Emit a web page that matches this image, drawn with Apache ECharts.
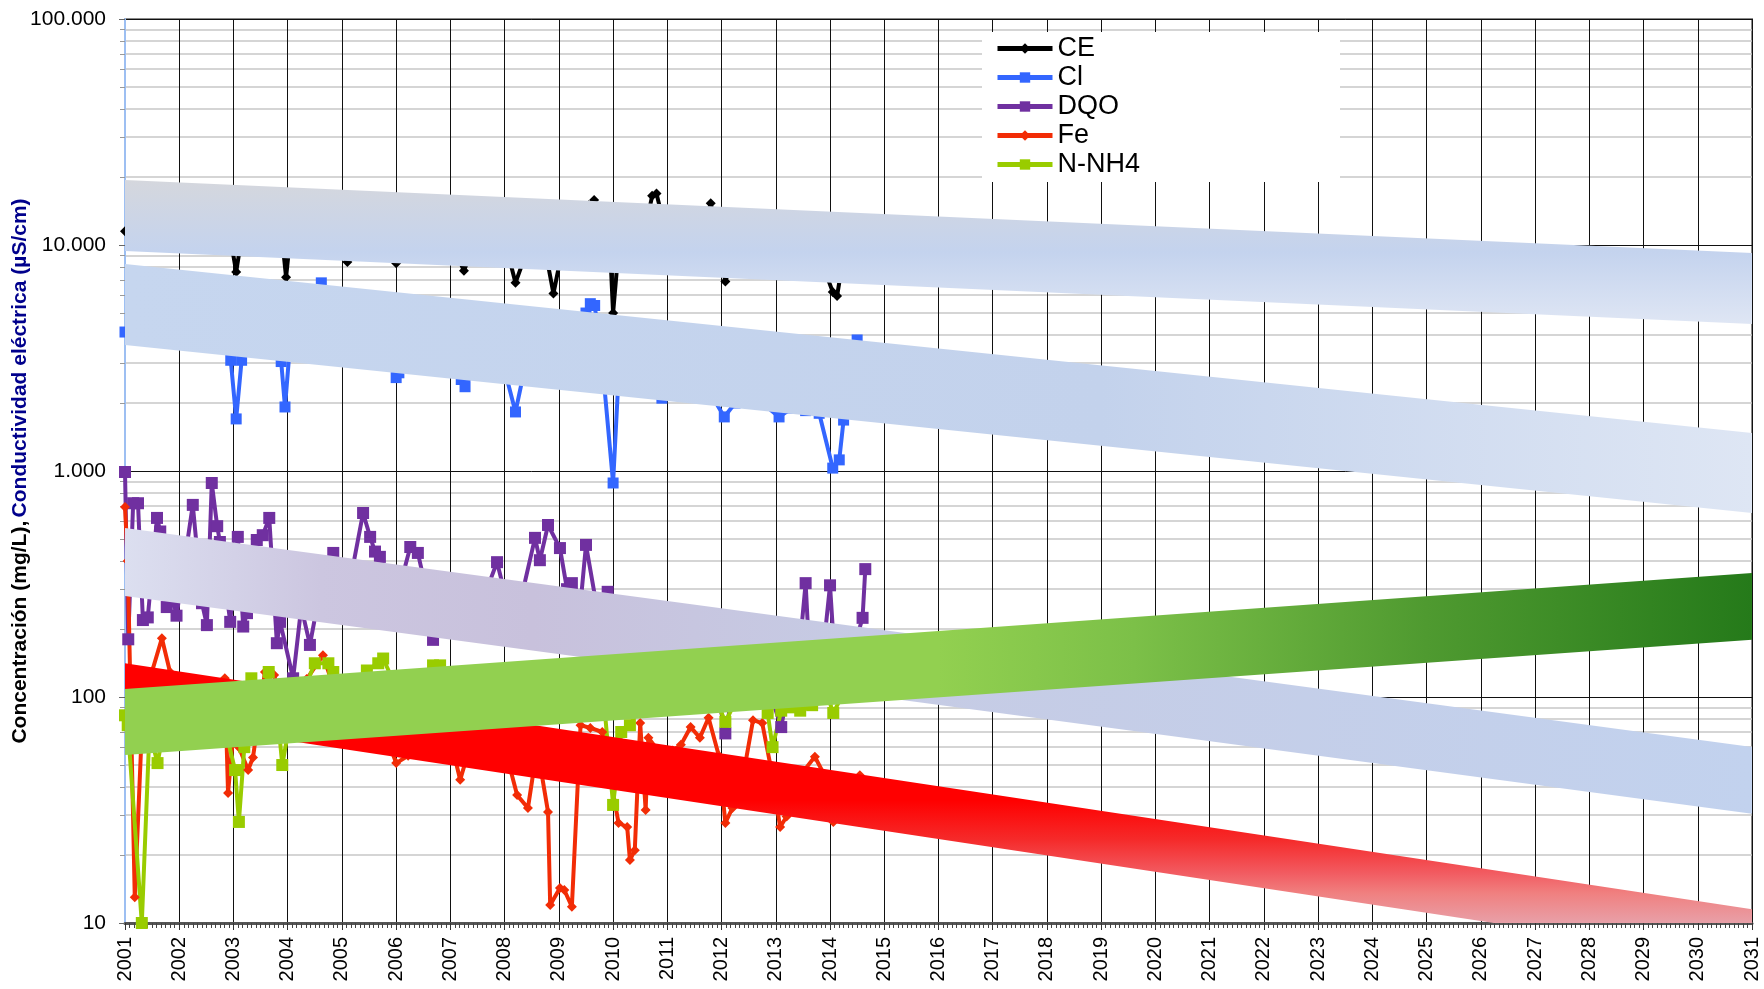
<!DOCTYPE html>
<html>
<head>
<meta charset="utf-8">
<title>Concentración y conductividad</title>
<script src="https://cdn.jsdelivr.net/npm/echarts@6.0.0/dist/echarts.min.js"></script>
<style>
  html, body { margin: 0; padding: 0; background: #fff; }
  #chart { width: 1764px; height: 989px; }
</style>
</head>
<body>
<div id="chart"></div>
<script>
// años decimales y valores
const ceTime = [2001.00, 2001.25, 2001.50, 2001.75, 2002.00, 2002.25, 2002.50, 2002.75, 2002.95, 2003.05, 2003.15, 2003.40, 2003.65, 2003.90, 2003.97, 2004.05, 2004.30, 2004.60, 2004.85, 2005.10, 2005.35, 2005.60, 2005.85, 2006.00, 2006.25, 2006.50, 2006.75, 2007.00, 2007.25, 2007.50, 2007.75, 2008.00, 2008.20, 2008.45, 2008.70, 2008.90, 2009.10, 2009.35, 2009.55, 2009.65, 2009.80, 2009.95, 2010.00, 2010.10, 2010.35, 2010.60, 2010.72, 2010.80, 2010.95, 2011.20, 2011.45, 2011.70, 2011.80, 2011.95, 2012.07, 2012.30, 2012.55, 2012.80, 2013.05, 2013.30, 2013.55, 2013.80, 2014.05, 2014.13, 2014.25, 2014.50];
const ceValue = [11500, 12000, 11000, 12500, 11800, 12200, 11500, 12000, 10500, 7600, 10800, 12000, 11500, 10500, 7200, 11000, 12500, 11800, 11000, 8400, 11500, 12000, 11000, 8300, 11500, 12000, 11000, 10500, 7700, 11000, 11500, 10500, 6800, 10000, 11000, 6100, 10500, 11000, 15000, 15800, 12000, 9000, 5000, 9500, 10500, 12000, 16500, 16900, 12000, 11000, 10500, 12500, 15300, 10000, 6900, 10000, 10500, 10000, 9800, 10000, 9500, 9000, 6200, 5940, 9000, 9500];

const clTime = [2001.00, 2001.25, 2001.50, 2001.75, 2002.00, 2002.25, 2002.50, 2002.75, 2002.95, 2003.05, 2003.15, 2003.40, 2003.65, 2003.88, 2003.95, 2004.05, 2004.30, 2004.62, 2004.85, 2005.10, 2005.35, 2005.60, 2005.85, 2006.00, 2006.05, 2006.30, 2006.55, 2006.80, 2007.05, 2007.20, 2007.27, 2007.50, 2007.75, 2008.00, 2008.20, 2008.35, 2008.60, 2008.85, 2009.10, 2009.30, 2009.50, 2009.58, 2009.66, 2009.80, 2010.00, 2010.10, 2010.35, 2010.60, 2010.90, 2011.15, 2011.40, 2011.65, 2011.85, 2012.05, 2012.25, 2012.50, 2012.75, 2013.06, 2013.30, 2013.55, 2013.80, 2014.05, 2014.17, 2014.25, 2014.50];
const clValue = [4120, 4500, 4800, 4300, 4600, 4400, 4700, 4200, 3090, 1700, 3090, 4200, 4000, 3050, 1920, 3800, 4000, 6800, 3800, 3500, 3700, 3400, 3300, 2590, 2720, 3300, 3200, 3000, 3100, 2540, 2360, 3000, 2900, 2800, 1825, 2700, 2900, 2700, 2800, 3000, 5000, 5500, 5400, 3000, 885, 2600, 2400, 2300, 2100, 2300, 2250, 2200, 2100, 1735, 2000, 2050, 2000, 1735, 1900, 1850, 1800, 1030, 1120, 1680, 3800];

const dqoTime = [2001.00, 2001.06, 2001.15, 2001.24, 2001.33, 2001.42, 2001.59, 2001.65, 2001.77, 2001.89, 2001.95, 2002.25, 2002.42, 2002.51, 2002.60, 2002.70, 2002.75, 2002.94, 2003.08, 2003.18, 2003.25, 2003.43, 2003.54, 2003.66, 2003.80, 2003.86, 2004.10, 2004.25, 2004.41, 2004.60, 2004.84, 2005.10, 2005.39, 2005.52, 2005.61, 2005.70, 2005.95, 2006.10, 2006.26, 2006.40, 2006.55, 2006.68, 2006.90, 2007.15, 2007.40, 2007.65, 2007.86, 2008.05, 2008.30, 2008.56, 2008.65, 2008.80, 2009.02, 2009.15, 2009.24, 2009.40, 2009.50, 2009.70, 2009.90, 2010.10, 2010.35, 2010.60, 2010.85, 2011.10, 2011.35, 2011.60, 2011.85, 2012.07, 2012.25, 2012.50, 2012.75, 2012.95, 2013.10, 2013.20, 2013.40, 2013.55, 2013.62, 2013.85, 2014.00, 2014.10, 2014.35, 2014.60, 2014.65];
const dqoValue = [990, 180, 720, 720, 219, 225, 620, 540, 250, 265, 229, 708, 260, 208, 885, 570, 485, 215, 511, 205, 235, 495, 520, 620, 173, 215, 121, 250, 170, 300, 434, 280, 652, 511, 440, 417, 300, 330, 461, 434, 300, 179, 280, 300, 260, 290, 395, 260, 270, 506, 403, 577, 456, 300, 319, 260, 471, 250, 292, 200, 180, 170, 160, 170, 150, 140, 130, 69, 120, 110, 115, 95, 73.6, 100, 130, 319, 150, 140, 312, 130, 140, 224, 368];

const feTime = [2001.00, 2001.05, 2001.18, 2001.35, 2001.50, 2001.68, 2001.83, 2002.00, 2002.25, 2002.50, 2002.75, 2002.84, 2002.90, 2003.00, 2003.10, 2003.27, 2003.36, 2003.58, 2003.75, 2003.90, 2004.10, 2004.35, 2004.65, 2004.85, 2005.10, 2005.40, 2005.70, 2006.00, 2006.22, 2006.50, 2006.80, 2007.00, 2007.18, 2007.40, 2007.70, 2008.00, 2008.23, 2008.43, 2008.60, 2008.80, 2008.84, 2009.02, 2009.10, 2009.24, 2009.40, 2009.58, 2009.80, 2010.10, 2010.26, 2010.31, 2010.40, 2010.50, 2010.60, 2010.65, 2010.90, 2011.10, 2011.25, 2011.43, 2011.60, 2011.76, 2011.95, 2012.07, 2012.20, 2012.40, 2012.58, 2012.75, 2012.90, 2013.08, 2013.20, 2013.45, 2013.72, 2013.90, 2014.06, 2014.30, 2014.55];
const feValue = [693, 400, 13, 120, 130, 182, 129, 110, 100, 95, 110, 121, 37.6, 70, 60, 47.5, 54, 129, 125, 90, 80, 120, 153, 110, 90, 85, 80, 51, 55, 75, 70, 65, 43, 65, 70, 60, 36.8, 32.3, 60, 31, 12, 14.3, 14, 11.8, 75, 73, 70, 27.7, 26.6, 19, 21, 76.7, 31.6, 66, 55, 58, 61.4, 73.6, 66, 81, 55, 27.7, 32.3, 45, 79, 76.7, 50, 26.6, 29.6, 45, 54.4, 45, 28, 40, 45];

const nh4Time = [2001.00, 2001.05, 2001.31, 2001.45, 2001.60, 2001.75, 2002.00, 2002.25, 2002.50, 2002.75, 2003.03, 2003.10, 2003.20, 2003.33, 2003.50, 2003.65, 2003.80, 2003.90, 2004.05, 2004.25, 2004.50, 2004.75, 2004.84, 2005.10, 2005.30, 2005.46, 2005.67, 2005.76, 2006.00, 2006.30, 2006.50, 2006.68, 2006.81, 2007.05, 2007.30, 2007.60, 2007.85, 2008.10, 2008.40, 2008.70, 2009.00, 2009.30, 2009.60, 2009.85, 2010.00, 2010.15, 2010.31, 2010.60, 2010.90, 2011.20, 2011.50, 2011.80, 2012.07, 2012.30, 2012.60, 2012.85, 2012.94, 2013.10, 2013.30, 2013.45, 2013.67, 2013.90, 2014.06, 2014.30, 2014.55];
const nh4Value = [83, 75, 10, 70, 51, 80, 90, 85, 95, 90, 47.5, 28, 60, 121, 100, 129, 90, 50, 80, 100, 141, 141, 129, 100, 110, 131, 141, 148, 110, 100, 105, 138, 138, 110, 100, 110, 120, 110, 120, 115, 110, 100, 90, 85, 33.3, 70, 75, 100, 110, 105, 100, 110, 77.6, 100, 110, 85, 60, 87, 90, 87, 92, 110, 85, 110, 120];

// bandas de tendencia: valores en 2001 y 2031
const bandYears = [2001, 2031];
const ceBandTop = [19400, 9220];
const ceBandBottom = [9400, 4470];
const clBandTop = [8240, 1473];
const clBandBottom = [3610, 652];
const dqoBandTop = [559, 60.1];
const dqoBandBottom = [280, 30.4];
const feBandTop = [141, 11.5];
const feBandBottom = [82.4, 6.72];
const nh4BandTop = [108.4, 354];
const nh4BandBottom = [55.4, 179];

const FONT = '"Liberation Sans", Arial, sans-serif';

const zip = (t, v) => t.map((x, i) => [x, v[i]]);

function lineSeries(name, time, value, color, symbol, size) {
  return {
    name,
    type: 'line',
    data: zip(time, value),
    symbol,
    symbolSize: size,
    showAllSymbol: true,
    z: 2,
    lineStyle: { color, width: 4 },
    itemStyle: { color },
  };
}

function bandSeries(name, top, bottom, fill) {
  return {
    name,
    type: 'custom',
    z: 3,
    clip: true,
    silent: true,
    data: bandYears.map((y, i) => [y, top[i], bottom[i]]),
    encode: { x: 0, y: 1 },
    renderItem(params, api) {
      if (params.dataIndex !== 0) return null;
      const pts = [
        api.coord([bandYears[0], top[0]]),
        api.coord([bandYears[1], top[1]]),
        api.coord([bandYears[1], bottom[1]]),
        api.coord([bandYears[0], bottom[0]]),
      ];
      return { type: 'polygon', shape: { points: pts }, style: { fill } };
    },
  };
}

const grad = (x2, y2, stops) =>
  new echarts.graphic.LinearGradient(0, 0, x2, y2, stops.map(([o, c]) => ({ offset: o, color: c })));

const chart = echarts.init(document.getElementById('chart'));

const option = {
  animation: false,
  textStyle: { fontFamily: FONT },
  grid: {
    left: 125, right: 12, top: 19, bottom: 66,
    outerBoundsMode: 'none',
    show: true, borderColor: '#8a8a8a', borderWidth: 2, backgroundColor: 'transparent',
  },
  legend: {
    data: ['CE', 'Cl', 'DQO', 'Fe', 'N-NH4'],
    orient: 'vertical',
    left: 982,
    top: 32,
    itemWidth: 55,
    itemHeight: 13,
    itemGap: 0,
    padding: [2, 200, 3, 13],
    backgroundColor: '#fff',
    lineStyle: { width: 5 },
    textStyle: { fontSize: 27, lineHeight: 29, color: '#000', fontFamily: FONT },
  },
  xAxis: {
    type: 'value',
    min: 2001,
    max: 2031,
    interval: 1,
    axisLine: { lineStyle: { color: '#555', width: 3 } },
    axisTick: { length: 7, lineStyle: { color: '#333', width: 1 } },
    minorTick: { show: true, splitNumber: 12, length: 5, lineStyle: { color: '#444', width: 1 } },
    axisLabel: {
      rotate: 90, margin: 14, fontSize: 20, color: '#000', fontFamily: FONT,
      formatter: (v) => String(v),
    },
    splitLine: { show: true, lineStyle: { color: '#111', width: 1 } },
  },
  yAxis: {
    type: 'log',
    logBase: 10,
    min: 10,
    max: 100000,
    axisLine: { show: true, lineStyle: { color: '#9dbff2', width: 2 } },
    axisTick: { show: true, length: 6, lineStyle: { color: '#666' } },
    minorTick: { show: true, splitNumber: 9, length: 5, lineStyle: { color: '#999' } },
    axisLabel: {
      margin: 19, fontSize: 21, color: '#000', fontFamily: FONT,
      formatter: (v) => String(Math.round(v)).replace(/\B(?=(\d{3})+(?!\d))/g, '.'),
    },
    splitLine: { show: true, lineStyle: { color: '#111', width: 1 } },
    minorSplitLine: { show: true, lineStyle: { color: '#c8c8c8', width: 1.5 } },
    name: '{a|Concentración (mg/L),} {b|Conductividad eléctrica (µS/cm)}',
    nameLocation: 'middle',
    nameGap: 94,
    nameMoveOverlap: false,
    nameTextStyle: {
      rich: {
        a: { fontSize: 21, fontWeight: 'bold', color: '#000', fontFamily: FONT },
        b: { fontSize: 21, fontWeight: 'bold', color: '#00008c', fontFamily: FONT },
      },
    },
  },
  series: [
    lineSeries('CE', ceTime, ceValue, '#000000', 'diamond', 10),
    lineSeries('Cl', clTime, clValue, '#3366ff', 'rect', 11),
    lineSeries('DQO', dqoTime, dqoValue, '#7030a0', 'rect', 12),
    lineSeries('Fe', feTime, feValue, '#f22c06', 'diamond', 10),
    lineSeries('N-NH4', nh4Time, nh4Value, '#99cc00', 'rect', 12),
    bandSeries('bandCE', ceBandTop, ceBandBottom,
      grad(0, 1, [[0, '#d5d7dd'], [0.5, '#c4d3ee'], [1, '#dfe6f4']])),
    bandSeries('bandCl', clBandTop, clBandBottom,
      grad(1, 0, [[0, '#c6d6ef'], [0.6, '#c3d2ec'], [1, '#dee6f4']])),
    bandSeries('bandDQO', dqoBandTop, dqoBandBottom,
      grad(1, 0, [[0, '#dcdff0'], [0.12, '#ccc6e0'], [0.25, '#c8c1dc'], [0.45, '#c6cbe4'], [1, '#c2d2ee']])),
    bandSeries('bandFe', feBandTop, feBandBottom,
      grad(0, 1, [[0, '#ff0000'], [0.46, '#ff0000'], [0.59, '#f52a2a'], [0.7, '#f25a60'], [0.77, '#f08080'], [0.87, '#e8a0a8'], [1, '#e4bcc4']])),
    bandSeries('bandNH4', nh4BandTop, nh4BandBottom,
      grad(1, 0, [[0, '#92d050'], [0.5, '#92d050'], [0.62, '#7cc048'], [0.8, '#4f9a30'], [1, '#257a1a']])),
  ],
};

chart.setOption(option);
</script>
</body>
</html>
